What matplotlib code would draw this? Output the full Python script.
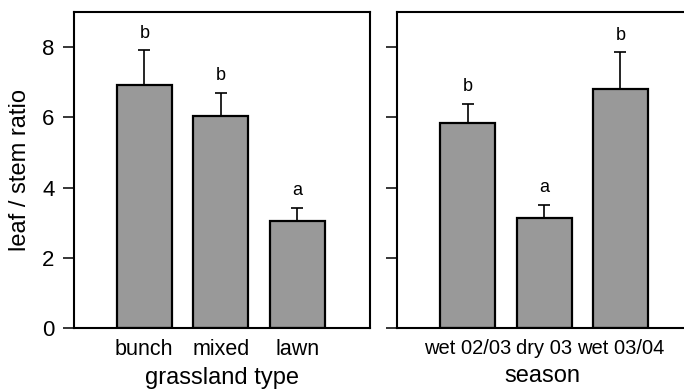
import matplotlib.pyplot as plt
import numpy as np

# leaf / stem ratio by grassland type and by season (mean + SE)
grass_types = ['bunch', 'mixed', 'lawn']
grass_mean = [6.91, 6.04, 3.05]
grass_se = [1.00, 0.65, 0.38]
grass_sig = ['b', 'b', 'a']

seasons = ['wet 02/03', 'dry 03', 'wet 03/04']
season_mean = [5.83, 3.12, 6.80]
season_se = [0.55, 0.38, 1.05]
season_sig = ['b', 'a', 'b']

plt.rcParams['font.family'] = ['Liberation Sans', 'DejaVu Sans']
plt.rcParams['font.size'] = 15

fig = plt.figure(figsize=(6.84, 3.89), dpi=100)
ax1 = fig.add_axes([0.1082, 0.1568, 0.4327, 0.8123])
ax2 = fig.add_axes([0.5804, 0.1568, 0.4240, 0.8123])


def bar_panel(ax, labels, mean, se, sig, xlim, xlabel, tick_fs):
    x = np.arange(1, len(labels) + 1)
    ax.bar(x, mean, width=0.72, color='#999999', edgecolor='black',
           linewidth=1.6, zorder=2)
    ax.errorbar(x, mean, yerr=[np.zeros(len(se)), se], fmt='none',
                ecolor='black', elinewidth=1.2, capsize=4, capthick=1.2,
                zorder=3)
    for xi, m, s, t in zip(x, mean, se, sig):
        ax.text(xi, m + s + 0.49, t, ha='center', va='center', fontsize=13)
    ax.set_xlim(*xlim)
    ax.set_ylim(0, 9)
    ax.set_xticks(x)
    ax.set_xticklabels(labels, fontsize=tick_fs)
    ax.set_yticks([0, 2, 4, 6, 8])
    ax.tick_params(axis='x', length=0, pad=8)
    ax.tick_params(axis='y', length=8, width=1.1, pad=6, labelsize=16)
    ax.set_xlabel(xlabel, fontsize=17, labelpad=5)
    for sp in ax.spines.values():
        sp.set_linewidth(1.5)


bar_panel(ax1, grass_types, grass_mean, grass_se, grass_sig,
          (0.081, 3.95), 'grassland type', 15.5)
bar_panel(ax2, seasons, season_mean, season_se, season_sig,
          (0.071, 3.875), 'season', 14.5)

ax1.set_ylabel('leaf / stem ratio', fontsize=17, labelpad=8)
ax2.set_yticklabels([])

fig.savefig('out.png', dpi=100)
